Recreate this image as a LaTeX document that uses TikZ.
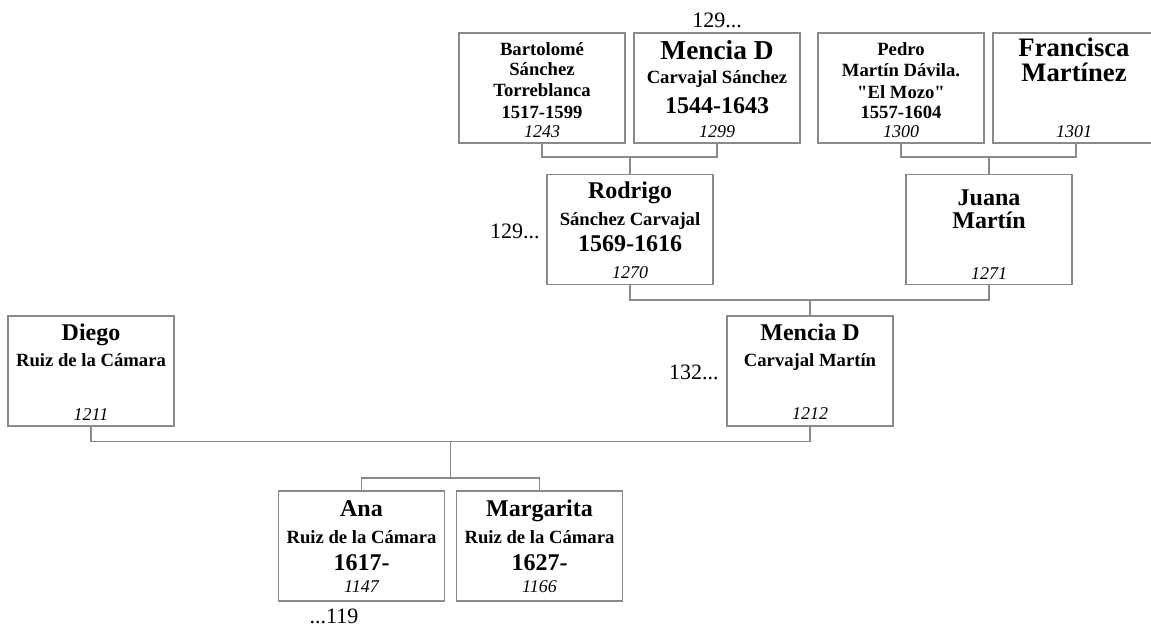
\documentclass[tikz,border=0pt]{standalone}
\usepackage{fontspec}
\setmainfont{Liberation Serif}[Ligatures=TeXOff]
\definecolor{ln}{HTML}{8A8A8A}
\tikzset{
  person/.style={draw=ln, line width=1pt, fill=white, minimum width=124.5pt, minimum height=82.5pt, inner sep=0pt},
  link/.style={draw=ln, line width=1pt},
  sm/.style={anchor=base, inner sep=0pt, font=\fontsize{14}{16}\selectfont\bfseries},
  nm/.style={anchor=base, inner sep=0pt, font=\fontsize{18}{21}\selectfont\bfseries},
  nmtwo/.style={anchor=base, inner sep=0pt, align=center, font=\fontsize{18}{17.25}\selectfont\bfseries},
  nmbigtwo/.style={anchor=base, inner sep=0pt, align=center, font=\fontsize{20}{18.75}\selectfont\bfseries},
  nmbig/.style={anchor=base, inner sep=0pt, font=\fontsize{20.5}{23}\selectfont\bfseries},
  dt/.style={anchor=base, inner sep=0pt, font=\fontsize{18}{21}\selectfont\bfseries},
  idn/.style={anchor=base, inner sep=0pt, font=\fontsize{13.5}{16}\selectfont\itshape},
  more/.style={anchor=base, inner sep=0pt, font=\fontsize{16.5}{19}\selectfont},
}
\begin{document}
\begin{tikzpicture}[x=0.75pt,y=-0.75pt]
\useasboundingbox (0,0) rectangle (1151,626);
\begin{scope}
\clip (0,0) rectangle (1151,626);
% boxes
\node[person] (p1243) at (542,88) {};
\node[person] (p1299) at (717,88) {};
\node[person] (p1300) at (901,88) {};
\node[person] (p1301) at (1076,88) {};
\node[person] (p1270) at (630,229.5) {};
\node[person] (p1271) at (989,229.5) {};
\node[person] (p1211) at (91,371) {};
\node[person] (p1212) at (810,371) {};
\node[person] (p1147) at (361.5,546) {};
\node[person] (p1166) at (539.5,546) {};
% junctions
\coordinate (j1) at (630,157);
\coordinate (j2) at (989,157);
\coordinate (j3) at (810,300);
\coordinate (j4) at (450.5,441.5);
\coordinate (j5) at (450.5,478);
% connectors
\draw[link] (p1243.south) |- (j1) -| (p1299.south);
\draw[link] (j1) -- (p1270.north);
\draw[link] (p1300.south) |- (j2) -| (p1301.south);
\draw[link] (j2) -- (p1271.north);
\draw[link] (p1270.south) |- (j3) -| (p1271.south);
\draw[link] (j3) -- (p1212.north);
\draw[link] (p1211.south) |- (j4) -| (p1212.south);
\draw[link] (j4) -- (j5);
\draw[link] (p1147.north) |- (j5) -| (p1166.north);
\end{scope}
% texts: 1243
\node[sm] (t1243a) at (542,55) {Bartolomé};
\node[sm] (t1243b) at (542,75.5) {Sánchez};
\node[sm] (t1243c) at (542,96.5) {Torreblanca};
\node[sm] (t1243d) at (542,118) {1517-1599};
\node[idn] (t1243e) at (542,137) {1243};
% 1299
\node[more] (m1299) at (717,27) {129...};
\node[nmbig] (t1299a) at (717,59) {Mencia D};
\node[sm] (t1299b) at (717,83) {Carvajal Sánchez};
\node[dt] (t1299c) at (717,113) {1544-1643};
\node[idn] (t1299d) at (717,137) {1299};
% 1300
\node[sm] (t1300a) at (901,55) {Pedro};
\node[sm] (t1300b) at (901,76.5) {Martín Dávila.};
\node[sm] (t1300c) at (901,98) {"El Mozo"};
\node[sm] (t1300d) at (901,118) {1557-1604};
\node[idn] (t1300e) at (901,137) {1300};
% 1301
\node[nmbigtwo] (t1301a) at (1074,81) {Francisca\\Martínez};
\node[idn] (t1301c) at (1074,137) {1301};
% 1270
\node[more, anchor=base east] (m1270) at (540,238) {129...};
\node[nm] (t1270a) at (630,198) {Rodrigo};
\node[sm] (t1270b) at (630,225.5) {Sánchez Carvajal};
\node[dt] (t1270c) at (630,251.5) {1569-1616};
\node[idn] (t1270d) at (630,278.5) {1270};
% 1271
\node[nmtwo] (t1271a) at (989,228) {Juana\\Martín};
\node[idn] (t1271c) at (989,279) {1271};
% 1211
\node[nm] (t1211a) at (91,340) {Diego};
\node[sm] (t1211b) at (91,366.5) {Ruiz de la Cámara};
\node[idn] (t1211c) at (91,420) {1211};
% 1212
\node[more, anchor=base east] (m1212) at (719,379) {132...};
\node[nm] (t1212a) at (810,340) {Mencia D};
\node[sm] (t1212b) at (810,366.5) {Carvajal Martín};
\node[idn] (t1212c) at (810,419.5) {1212};
% 1147
\node[nm] (t1147a) at (361.5,516) {Ana};
\node[sm] (t1147b) at (361.5,543) {Ruiz de la Cámara};
\node[dt] (t1147c) at (361.5,570) {1617-};
\node[idn] (t1147d) at (361.5,592.5) {1147};
\node[more] (m1147) at (334,623) {...119};
% 1166
\node[nm] (t1166a) at (539.5,516) {Margarita};
\node[sm] (t1166b) at (539.5,543) {Ruiz de la Cámara};
\node[dt] (t1166c) at (539.5,570) {1627-};
\node[idn] (t1166d) at (539.5,592.5) {1166};
\end{tikzpicture}
\end{document}
